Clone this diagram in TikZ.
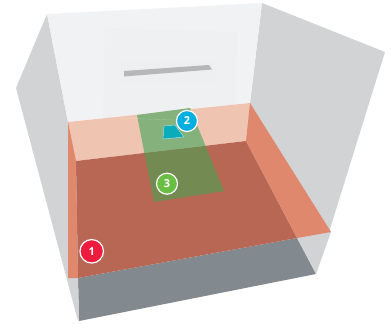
\documentclass[tikz,border=0pt]{standalone}
\usepackage{fontspec}
\setmainfont{Open Sans}
\definecolor{wallA}{RGB}{241,242,244}
\definecolor{wallB}{RGB}{239,240,242}
\definecolor{wallC}{RGB}{238,239,241}
\definecolor{side}{RGB}{209,211,212}
\definecolor{pinkz}{RGB}{239,197,178}
\definecolor{redz}{RGB}{185,103,85}
\definecolor{orangez}{RGB}{224,136,110}
\definecolor{floorz}{RGB}{130,138,143}
\definecolor{greenA}{RGB}{133,177,124}
\definecolor{greenB}{RGB}{115,139,82}
\definecolor{tealz}{RGB}{10,172,185}
\definecolor{barz}{RGB}{182,183,185}
\definecolor{cred}{RGB}{237,28,62}
\definecolor{cblue}{RGB}{0,174,223}
\definecolor{cgreen}{RGB}{106,190,69}
\tikzset{badge/.style={circle,draw=white,line width=1.2pt,minimum size=21pt,inner sep=0pt,text=white,font=\bfseries\fontsize{11}{11}\selectfont}}
\begin{document}
\begin{tikzpicture}[x=1pt,y=-1pt]
\useasboundingbox (0,0) rectangle (391,324);
% walls
\fill[side] (47,14) -- (16,88) -- (78,321) -- (78,150) -- (68,122) -- cycle;
\fill[side] (262,3) -- (385,52) -- (316,274) -- (240,150) -- (250,103) -- cycle;
\fill[wallA] (47,14) -- (262,3) -- (250,103) -- (68,122) -- cycle;
\fill[wallB] (105,28) -- (237,32) -- (235,122) -- (103,122) -- cycle;
\fill[wallC] (121,62) -- (216,60) -- (216,84) -- (121,84) -- cycle;
\fill[barz] (124,71) -- (209,65) -- (212,69.5) -- (124,76.5) -- cycle;
% floor
\fill[floorz] (78,278) -- (297,238) -- (316,274) -- (79,321) -- cycle;
\fill[side] (68,278) -- (78,278) -- (79,321) -- cycle;
\fill[side] (297,238) -- (331,232) -- (316,274) -- cycle;
% translucent plane
\fill[pinkz] (68,122) -- (250,103) -- (246,141) -- (76,161) -- cycle;
\fill[redz] (76,161) -- (246,141) -- (297,238) -- (78,278) -- cycle;
\fill[orangez] (250,103) -- (331,232) -- (297,238) -- (246,141) -- cycle;
\fill[orangez] (68,122) -- (76,161) -- (78,278) -- (68,278) -- cycle;
% green zone
\fill[greenA] (137,115) -- (190,108) -- (205.6,146) -- (144.4,153) -- cycle;
\fill[greenB] (144.4,153) -- (205.6,146) -- (224,191) -- (154,202) -- cycle;
\draw[white,opacity=.2,line width=.4pt] (118,118) -- (175,120);
\draw[fill=tealz,draw=white!60!tealz,line width=.5pt] (164,126) -- (175,125) -- (184,137) -- (163,139) -- cycle;
% badges
\node[badge,fill=cred,minimum size=23.5pt] (n1) at (91.7,251.3) {1};
\node[badge,fill=cblue] (n2) at (187,121) {2};
\node[badge,fill=cgreen] (n3) at (167,183.7) {3};
\end{tikzpicture}
\end{document}
